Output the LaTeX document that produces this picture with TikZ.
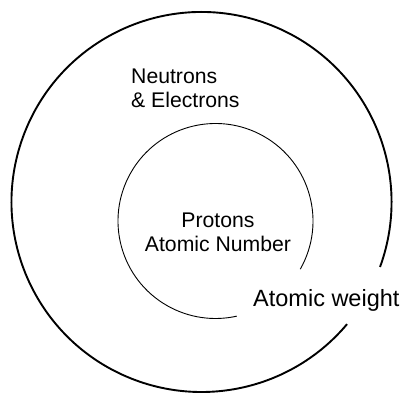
\documentclass[tikz,border=0pt]{standalone}
\usepackage{fontspec}
\setmainfont{Liberation Sans}
\tikzset{
  label text/.style={inner sep=0pt,font=\fontsize{21.2}{24}\selectfont},
  big text/.style={inner sep=0pt,font=\fontsize{23.5}{28}\selectfont}
}
\begin{document}
\begin{tikzpicture}[x=1pt,y=1pt]
  \useasboundingbox (0,0) rectangle (404,392);
  \coordinate (outer) at (201.5,190);
  \coordinate (inner) at (215.5,171);
  % outer shell, open at lower right
  \draw[line width=1.9pt] (outer) ++(-20:190) arc[start angle=-20,end angle=320,radius=190];
  % nucleus
  \draw[line width=0.9pt] (inner) ++(-29.6:97.5) arc[start angle=-29.6,end angle=282.6,radius=97.5];
  \node[label text,anchor=base west,align=left] (shell) at (131,285) {Neutrons\\\& Electrons};
  \node[label text,anchor=base,align=center] (nucleus) at (218,141) {Protons\\Atomic Number};
  \node[big text,anchor=base west] (weight) at (253,86) {Atomic weight};
\end{tikzpicture}
\end{document}
